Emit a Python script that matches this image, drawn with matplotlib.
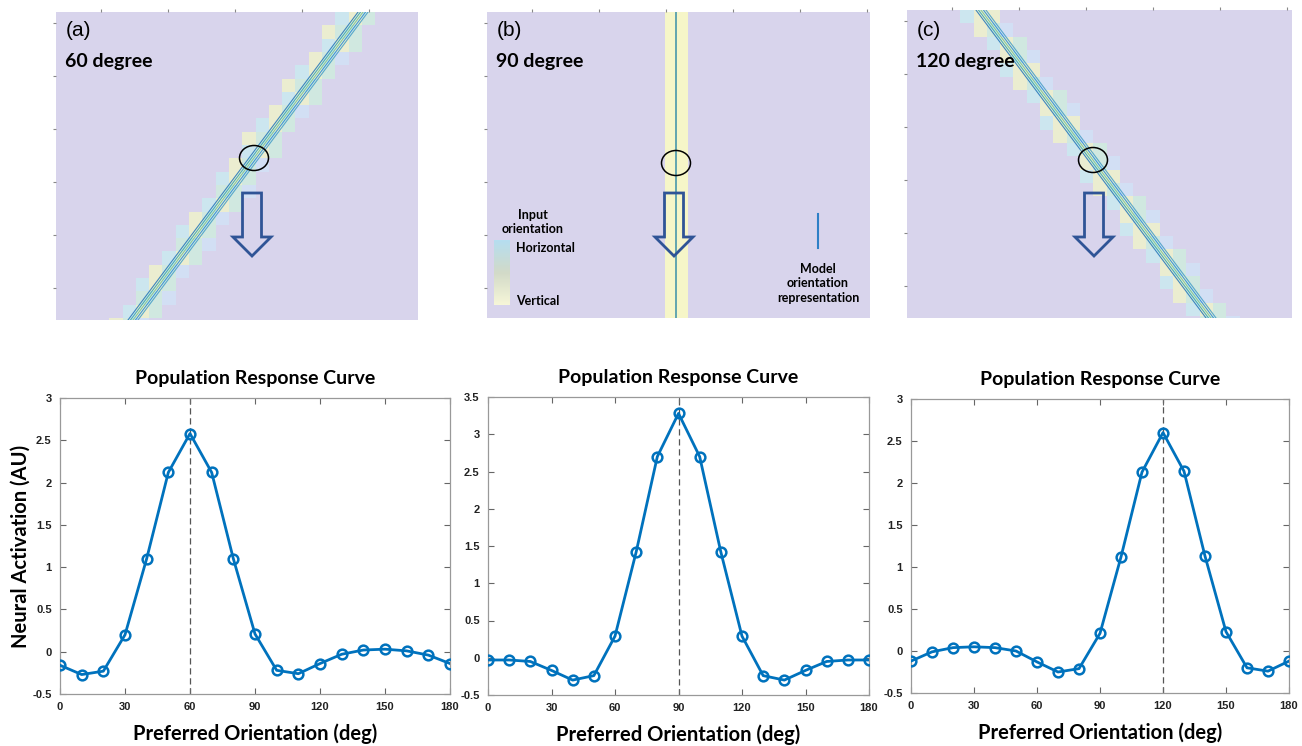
import numpy as np
import matplotlib.pyplot as plt
from matplotlib.patches import Ellipse, Polygon
from matplotlib.colors import LinearSegmentedColormap

# preferred orientation of each model unit (deg)
pref_deg = list(range(0, 181, 10))

# population responses for the three stimulus orientations
stim_deg = [60, 90, 120]
resp_60 = [-0.16, -0.27, -0.23, 0.20, 1.10, 2.12, 2.58, 2.12, 1.10, 0.21,
           -0.22, -0.26, -0.14, -0.03, 0.02, 0.03, 0.01, -0.04, -0.14]
resp_90 = [-0.03, -0.03, -0.05, -0.17, -0.30, -0.24, 0.29, 1.42, 2.70, 3.28,
           2.70, 1.42, 0.29, -0.24, -0.30, -0.17, -0.05, -0.03, -0.03]
resp_120 = [-0.12, -0.01, 0.04, 0.05, 0.04, 0.00, -0.13, -0.25, -0.21, 0.21,
            1.12, 2.13, 2.60, 2.14, 1.13, 0.23, -0.20, -0.24, -0.12]
responses = [resp_60, resp_90, resp_120]
y_tops = [3, 3.5, 3]

panel_tags = ["(a)", "(b)", "(c)"]
stim_labels = ["60 degree", "90 degree", "120 degree"]

BG = "#d8d4ec"
BLUE = "#0072BD"
ARROW = "#2f5496"
TITLE_FONT = "Lato"
TICK_FONT = "Liberation Sans"

fig = plt.figure(figsize=(13.02, 7.46), dpi=100)
W, H = 1302, 746


def fig_axes(x0, y0, x1, y1):
    # pixel box (top-left origin) -> figure axes
    return fig.add_axes([x0 / W, 1 - y1 / H, (x1 - x0) / W, (y1 - y0) / H])


def draw_stimulus(ax, w, h, cx, cy, slope):
    ax.set_facecolor(BG)
    ys = np.array([0, h])
    xs = cx + slope * (ys - cy)
    if slope == 0:
        ax.axvspan(cx - 11.5, cx + 11.5, color="#f6f6c8", lw=0)
        ax.plot([cx, cx], [0, h], color="#3a8fa8", lw=1.1)
    else:
        cell = 13.3
        norm = np.sqrt(1 + slope ** 2)
        cols = ["#d0daf4", "#cbeaf0", "#eff2cc", "#cfecdf", "#d2e2f6"]
        for i in range(int(w / cell) + 1):
            for j in range(int(h / cell) + 1):
                x = (i + 0.5) * cell
                y = (j + 0.5) * cell
                off = (x - (cx + slope * (y - cy))) / norm
                if abs(off) < 16:
                    k = int(np.floor(off / cell + 2.5)) + (j % 2)
                    ax.add_patch(plt.Rectangle((i * cell, j * cell), cell, cell,
                                               color=cols[k % len(cols)], lw=0, alpha=0.85))
        streak_cols = ["#2b7bba", "#3aa6b4", "#7cc49a", "#2f8fd6", "#4aa0c8"]
        for n, d in enumerate([-4, -2, 0, 2, 4]):
            ax.plot(xs + d * norm, ys, color=streak_cols[n], lw=0.8, alpha=0.9)
    ax.add_patch(Ellipse((cx, cy), 29, 25, fill=False, ec="black", lw=1.1, zorder=4))
    ax.set_xlim(0, w)
    ax.set_ylim(h, 0)
    ax.set_xticks(np.arange(45, w, 67))
    ax.set_yticks(np.arange(11, h, 53))
    ax.tick_params(length=2, color="#888", labelbottom=False, labelleft=False,
                   top=True, bottom=False, labeltop=False)
    for s in ax.spines.values():
        s.set_visible(False)


def hollow_arrow(ax, xc, y_top, y_neck, y_tip, half_shaft, half_head):
    pts = [(xc - half_shaft, y_top), (xc + half_shaft, y_top), (xc + half_shaft, y_neck),
           (xc + half_head, y_neck), (xc, y_tip), (xc - half_head, y_neck),
           (xc - half_shaft, y_neck)]
    ax.add_patch(Polygon(pts, closed=True, fill=False, ec=ARROW, lw=2,
                         joinstyle="miter", zorder=5))


# top row: stimulus panels (pixel boxes)
top_boxes = [(56, 12, 418, 320), (487, 12, 870, 318), (907, 10, 1292, 318)]
centers = [(198, 146), (189, 151), (186, 150)]
slopes = [-0.747, 0.0, 0.747]
arrow_x = [196, 187, 187]

for k, (box, c, s) in enumerate(zip(top_boxes, centers, slopes)):
    ax = fig_axes(*box)
    w, h = box[2] - box[0], box[3] - box[1]
    draw_stimulus(ax, w, h, c[0], c[1], s)
    dy = box[1] - 12
    hollow_arrow(ax, arrow_x[k], 181 - dy, 225 - dy, 244 - dy, 9.5, 19)
    ax.text(10, 19 - dy, panel_tags[k], fontsize=15, family=TICK_FONT,
            va="center", ha="left")
    ax.text(9, 50 - dy, stim_labels[k], fontsize=14, family=TITLE_FONT,
            fontweight="bold", va="center", ha="left")
    if k == 1:
        cmap = LinearSegmentedColormap.from_list("ori", ["#b6def0", "#d2dac8", "#f6f6d8"])
        ax.imshow(np.linspace(0, 1, 50)[:, None], cmap=cmap, aspect="auto",
                  extent=(7, 23, 293, 228), zorder=2)
        ax.set_xlim(0, w)
        ax.set_ylim(h, 0)
        ax.text(46, 210, "Input\norientation", fontsize=9, family=TITLE_FONT,
                fontweight="bold", ha="center", va="center", linespacing=1.25)
        ax.text(29, 236, "Horizontal", fontsize=9, family=TITLE_FONT, fontweight="bold",
                va="center")
        ax.text(29, 289, "Vertical", fontsize=9, family=TITLE_FONT, fontweight="bold",
                va="center")
        ax.plot([331, 331], [202, 236], color="#2e7fc6", lw=1.5)
        ax.text(331, 271, "Model\norientation\nrepresentation", fontsize=9,
                family=TITLE_FONT, fontweight="bold", ha="center", va="center",
                linespacing=1.25)

# bottom row: population response curves
bot_boxes = [(60, 398, 450, 694), (488, 397, 869, 695), (911, 399, 1289, 693)]
for k, box in enumerate(bot_boxes):
    ax = fig_axes(*box)
    ax.axvline(stim_deg[k], color="#555", ls=(0, (5, 3)), lw=0.9, zorder=1)
    ax.plot(pref_deg, responses[k], color=BLUE, lw=2, marker="o", ms=7,
            mfc="none", mec=BLUE, mew=1.8, zorder=3)
    ax.set_xlim(0, 180)
    ax.set_ylim(-0.5, y_tops[k])
    ax.set_xticks(range(0, 181, 30))
    yt = np.arange(-0.5, y_tops[k] + 0.01, 0.5)
    ax.set_yticks(yt)
    ax.set_yticklabels([f"{v:g}" for v in yt])
    ax.tick_params(direction="in", top=True, right=True, length=4, width=0.8,
                   color="#666", labelsize=8, labelcolor="#222", pad=6)
    for lab in ax.get_xticklabels() + ax.get_yticklabels():
        lab.set_family(TICK_FONT)
        lab.set_fontweight("bold")
    for s in ax.spines.values():
        s.set_color("#999")
        s.set_linewidth(0.9)
    ax.set_title("Population Response Curve", fontsize=14, family=TITLE_FONT,
                 fontweight="bold", pad=10)
    ax.set_xlabel("Preferred Orientation (deg)", fontsize=14.5, family=TITLE_FONT,
                  fontweight="bold", labelpad=8)
    if k == 0:
        ax.set_ylabel("Neural Activation (AU)", fontsize=14.5, family=TITLE_FONT,
                      fontweight="bold")
        ax.yaxis.set_label_coords(-0.075, 0.5)

fig.savefig("out.png", dpi=100)
